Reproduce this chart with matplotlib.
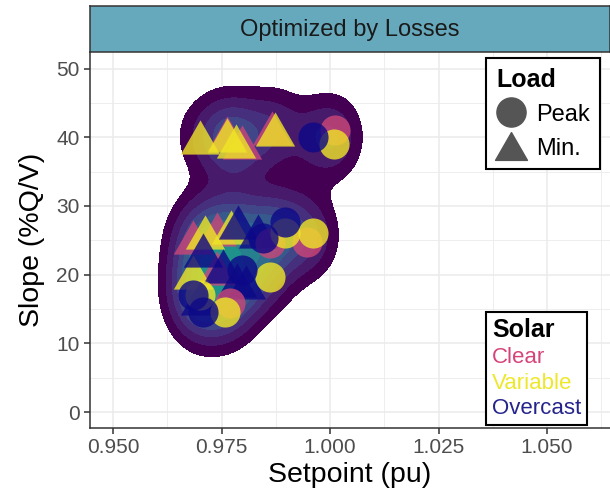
import numpy as np
import matplotlib
matplotlib.use("Agg")
import matplotlib.pyplot as plt
from matplotlib.lines import Line2D
from matplotlib.path import Path

plt.rcParams['font.family'] = ['Liberation Sans', 'DejaVu Sans']

# setpoint (pu), slope (%Q/V), load, solar condition
setpoint = [0.9700, 0.9762, 0.9762, 0.9797, 0.9783, 0.9866, 0.9873,
            0.9961, 1.0012, 1.0009,
            0.9684, 0.9739, 0.9711, 0.9771, 0.9788, 0.9834, 0.9739,
            0.9684, 0.9700, 0.9785, 0.9806, 0.9753, 0.9707,
            0.9896, 0.9896, 0.9961, 0.9947, 0.9861, 0.9845,
            0.9797, 0.9861, 0.9684, 0.9700, 0.9758, 0.9769, 0.9707]
slope = [40.1, 40.6, 40.3, 39.3, 39.5, 41.3, 41.2,
         40.0, 41.0, 39.0,
         25.5, 26.6, 26.2, 27.0, 27.6, 26.3, 21.0,
         20.4, 16.6, 19.3, 19.0, 21.2, 23.6,
         27.7, 26.1, 26.1, 24.8, 24.6, 25.4,
         20.7, 19.7, 17.1, 17.1, 14.6, 15.9, 14.6]
load = ['Min.', 'Min.', 'Min.', 'Min.', 'Min.', 'Min.', 'Min.',
        'Peak', 'Peak', 'Peak',
        'Min.', 'Min.', 'Min.', 'Min.', 'Min.', 'Min.', 'Min.',
        'Min.', 'Min.', 'Min.', 'Min.', 'Min.', 'Min.',
        'Peak', 'Peak', 'Peak', 'Peak', 'Peak', 'Peak',
        'Peak', 'Peak', 'Peak', 'Peak', 'Peak', 'Peak', 'Peak']
solar = ['Variable', 'Clear', 'Variable', 'Clear', 'Variable', 'Clear', 'Variable',
         'Overcast', 'Clear', 'Variable',
         'Clear', 'Clear', 'Variable', 'Variable', 'Overcast', 'Overcast', 'Clear',
         'Variable', 'Overcast', 'Overcast', 'Overcast', 'Overcast', 'Overcast',
         'Overcast', 'Variable', 'Variable', 'Clear', 'Clear', 'Overcast',
         'Overcast', 'Variable', 'Overcast', 'Variable', 'Variable', 'Clear', 'Overcast']

solar_levels = ['Clear', 'Variable', 'Overcast']
solar_colors = {'Clear': '#CC4778', 'Variable': '#F0E626', 'Overcast': '#0D0887'}
legend_text_colors = {'Clear': '#D6457A', 'Variable': '#EEE82C', 'Overcast': '#24248C'}

# wider-than-tall triangle like ggplot's filled triangle
tri = Path([(-1.0, -0.87), (1.0, -0.87), (0.0, 0.87), (-1.0, -0.87)],
           [Path.MOVETO, Path.LINETO, Path.LINETO, Path.CLOSEPOLY])
load_markers = {'Peak': 'o', 'Min.': tri}
load_sizes = {'Peak': 470, 'Min.': 800}

x = np.array(setpoint)
y = np.array(slope)

fig = plt.figure(figsize=(6.10, 5.04), dpi=100)
ax = fig.add_axes([0.1475, 0.1508, 0.8525, 0.746])

# 2d kernel density, banded like density_2d_filled
gx = np.linspace(0.944, 1.066, 300)
gy = np.linspace(-3, 54, 300)
GX, GY = np.meshgrid(gx, gy)
sx, sy = 0.0046, 4.0
dens = np.zeros_like(GX)
for xi, yi in zip(x, y):
    dens += np.exp(-0.5 * (((GX - xi) / sx) ** 2 + ((GY - yi) / sy) ** 2))
dens /= dens.max()
levels = [0.10, 0.20, 0.31, 0.42, 0.53, 0.64, 0.75, 0.87, 1.01]
cmap = plt.get_cmap('viridis')
band_colors = [cmap(v) for v in [0.0, 0.07, 0.14, 0.21, 0.28, 0.35, 0.43, 0.51]]
ax.contourf(GX, GY, dens, levels=levels, colors=band_colors, zorder=2)

for ld in ['Min.', 'Peak']:
    for s in solar_levels:
        idx = [i for i in range(len(x)) if load[i] == ld and solar[i] == s]
        if not idx:
            continue
        ax.scatter(x[idx], y[idx], marker=load_markers[ld], s=load_sizes[ld],
                   color=solar_colors[s], alpha=0.8, linewidths=0, zorder=3)

ax.set_xlim(0.9447, 1.0645)
ax.set_ylim(-2.3, 52.4)
ax.set_xticks([0.950, 0.975, 1.000, 1.025, 1.050])
ax.set_xticklabels(['0.950', '0.975', '1.000', '1.025', '1.050'])
ax.set_yticks([0, 10, 20, 30, 40, 50])
ax.set_xticks([0.9625, 0.9875, 1.0125, 1.0375, 1.0625], minor=True)
ax.set_yticks([5, 15, 25, 35, 45], minor=True)
ax.grid(which='major', color='#EBEBEB', linewidth=1.1, zorder=0)
ax.grid(which='minor', color='#EBEBEB', linewidth=0.6, zorder=0)
ax.set_axisbelow(True)
ax.tick_params(which='major', length=4, width=1.1, color='#333333',
               labelcolor='#4D4D4D', labelsize=15)
ax.tick_params(which='minor', length=0)
for side in ['top', 'right']:
    ax.spines[side].set_visible(False)
for side in ['left', 'bottom']:
    ax.spines[side].set_color('#333333')
    ax.spines[side].set_linewidth(1.1)
ax.set_xlabel('Setpoint (pu)', fontsize=20.5, labelpad=3)
ax.set_ylabel('Slope (%Q/V)', fontsize=20.5, labelpad=8)

# facet strip
strip = fig.add_axes([0.1475, 0.8968, 0.8525, 0.0913])
strip.set_xticks([])
strip.set_yticks([])
strip.set_facecolor('#66A9BC')
for sp in strip.spines.values():
    sp.set_color('#333333')
    sp.set_linewidth(1.1)
strip.text(0.5, 0.48, 'Optimized by Losses', ha='center', va='center',
           fontsize=17, color='#1A1A1A', transform=strip.transAxes)

# shape legend
load_handles = [Line2D([], [], marker='o', color='#555555', linestyle='',
                       markersize=21, label='Peak'),
                Line2D([], [], marker=tri, color='#555555', linestyle='',
                       markersize=23, label='Min.')]
leg1 = ax.legend(handles=load_handles, title='Load', loc='upper left',
                 bbox_to_anchor=(0.7625, 0.984), fontsize=17, title_fontsize=18,
                 frameon=True, fancybox=False, edgecolor='black', framealpha=1,
                 handlelength=1.2, handletextpad=0.5, labelspacing=0.5,
                 borderpad=0.42, borderaxespad=0)
leg1.get_title().set_fontweight('bold')
leg1._legend_box.align = 'left'
leg1.get_frame().set_linewidth(1.5)
ax.add_artist(leg1)

# colour legend, text only
solar_handles = [Line2D([], [], linestyle='', marker='', label=s) for s in solar_levels]
leg2 = ax.legend(handles=solar_handles, title='Solar', loc='lower left',
                 bbox_to_anchor=(0.7625, 0.008), fontsize=16, title_fontsize=18,
                 frameon=True, fancybox=False, edgecolor='black', framealpha=1,
                 handlelength=0, handletextpad=0, labelspacing=0.22,
                 borderpad=0.25, borderaxespad=0)
leg2.get_title().set_fontweight('bold')
leg2._legend_box.align = 'left'
leg2.get_frame().set_linewidth(1.5)
for txt, s in zip(leg2.get_texts(), solar_levels):
    txt.set_color(legend_text_colors[s])

fig.savefig('out.png', dpi=100)
